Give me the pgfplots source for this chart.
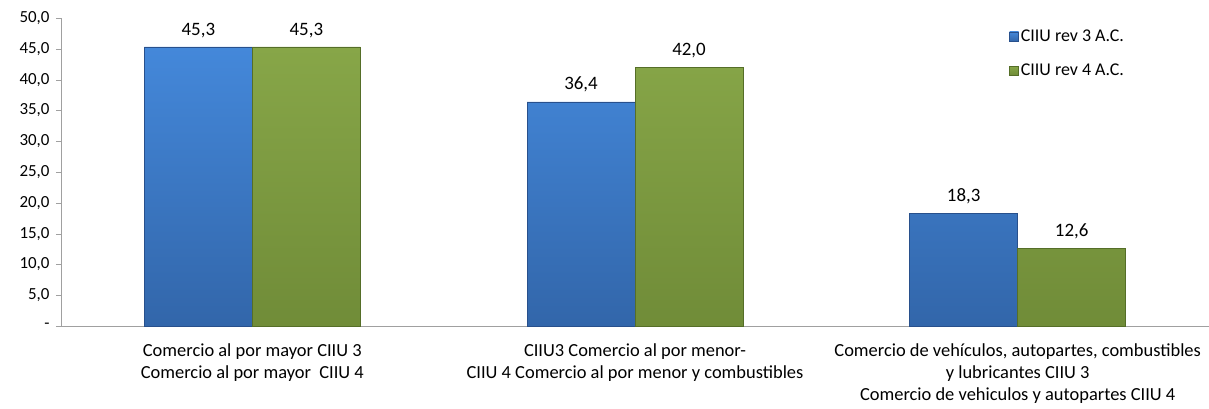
\documentclass[border=0pt]{standalone}
\usepackage{pgfplots}
\pgfplotsset{compat=1.18}
\usepackage{fontspec}
\setmainfont{Carlito}
\definecolor{bluetop}{RGB}{68,136,218}
\definecolor{bluebot}{RGB}{50,102,170}
\definecolor{blueedge}{RGB}{40,80,140}
\definecolor{greentop}{RGB}{135,166,72}
\definecolor{greenbot}{RGB}{112,140,56}
\definecolor{greenedge}{RGB}{85,110,40}
\definecolor{axisgray}{RGB}{160,160,160}
\begin{document}
\begin{tikzpicture}
\begin{axis}[
  name=ax,
  scale only axis,
  width=1148bp, height=308bp,
  ymin=0, ymax=50,
  xmin=-0.5, xmax=2.5,
  ybar=0pt,
  bar width=108bp,
  axis x line=bottom, axis y line=left,
  axis line style={draw=axisgray, -},
  ytick={0,5,...,50},
  yticklabels={-,{5,0},{10,0},{15,0},{20,0},{25,0},{30,0},{35,0},{40,0},{45,0},{50,0}},
  major tick length=5bp,
  y tick style={draw=axisgray},
  tick align=outside,
  xtick={0,1,2},
  xticklabels={{Comercio al por mayor CIIU 3\\Comercio al por mayor\ \ CIIU 4},
               {CIIU3 Comercio al por menor-\\CIIU 4 Comercio al por menor y combustibles},
               {Comercio de vehículos, autopartes, combustibles\\y lubricantes CIIU 3\\Comercio de vehiculos y autopartes CIIU 4}},
  x tick style={draw=none},
  extra x ticks={0.5,1.5},
  extra x tick labels={},
  extra x tick style={major tick length=14bp, tick style={draw=axisgray}},
  xticklabel style={align=center, font=\fontsize{18.5}{22}\selectfont, yshift=-9bp},
  yticklabel style={font=\fontsize{17}{18}\selectfont, xshift=-3bp},
  nodes near coords,
  every node near coord/.append style={font=\fontsize{19}{20}\selectfont, yshift=6bp},
  nodes near coords style={/pgf/number format/.cd, use comma, fixed, fixed zerofill, precision=1, assume math mode=true},
  legend style={draw=none, fill=none, at={(rel axis cs:0.826,0.975)}, anchor=north west,
    font=\fontsize{18}{20}\selectfont, row sep=17bp, cells={anchor=west}, inner xsep=0pt},
  legend image code/.code={\fill[#1] (2bp,-4.5bp) rectangle (11bp,4.5bp);},
  clip=false,
]
\addplot[draw=blueedge, top color=bluetop, bottom color=bluebot] coordinates {(0,45.3) (1,36.4) (2,18.3)};
\addplot[draw=greenedge, top color=greentop, bottom color=greenbot] coordinates {(0,45.3) (1,42.0) (2,12.6)};
\legend{CIIU rev 3 A.C., CIIU rev 4 A.C.}
\end{axis}
\pgfresetboundingbox
\path ([shift={(-61bp,-82bp)}]ax.south west) rectangle ([shift={(0bp,18bp)}]ax.north east);
\end{tikzpicture}
\end{document}
